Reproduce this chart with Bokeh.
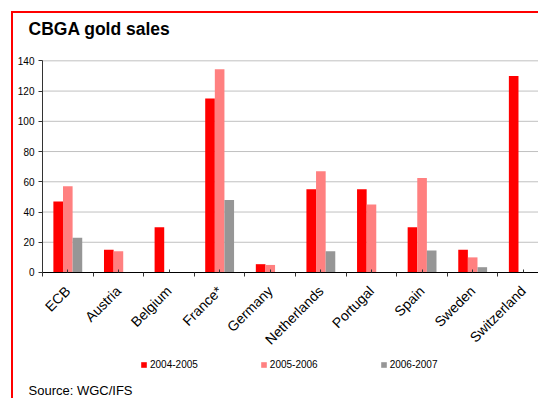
import math
from bokeh.plotting import figure
from bokeh.models import Range1d, FixedTicker, Label, Legend, LegendItem, ColumnDataSource
from bokeh.embed import file_html
from bokeh.resources import INLINE

countries = ["ECB", "Austria", "Belgium", "France*", "Germany", "Netherlands",
             "Portugal", "Spain", "Sweden", "Switzerland"]
sales_2004_2005 = [47, 15, 30, 115, 5.5, 55, 55, 30, 15, 130]
sales_2005_2006 = [57, 14, 0, 134.5, 5, 67, 45, 62.5, 10, 0]
sales_2006_2007 = [23, 0, 0, 48, 0, 14, 0, 14.5, 3.5, 0]
series_names = ["2004-2005", "2005-2006", "2006-2007"]
series_colors = ["#FF0000", "#FF8080", "#969696"]
y_ticks = [0, 20, 40, 60, 80, 100, 120, 140]

FONT = "Liberation Sans"
BAR_W = 0.19
X_END = 9.84

centers = [i + 0.5 for i in range(len(countries))]

# the frame fills the whole canvas; axes are pinned at x=0 / y=0
p = figure(width=527, height=387,
           x_range=Range1d(-0.573, X_END), y_range=Range1d(-84.66, 171.3),
           output_backend="svg", toolbar_location=None,
           min_border_left=0, min_border_right=0, min_border_top=0, min_border_bottom=0)
p.margin = (11, 0, 0, 11)
p.styles = {"border-top": "2px solid #FF0000", "border-left": "2px solid #FF0000"}
p.outline_line_color = None
p.background_fill_color = "white"
p.border_fill_color = "white"
p.xgrid.grid_line_color = None
p.ygrid.grid_line_color = None

# horizontal gridlines from the y ticks
p.segment(x0=[0] * len(y_ticks), x1=[X_END] * len(y_ticks), y0=y_ticks, y1=y_ticks,
          line_color="#C0C0C0", line_width=1)

series = [sales_2004_2005, sales_2005_2006, sales_2006_2007]
renderers = []
for k, vals in enumerate(series):
    src = ColumnDataSource(dict(x=[c + (k - 1) * BAR_W for c in centers], top=vals))
    r = p.vbar(x="x", top="top", width=BAR_W, bottom=0, source=src,
               fill_color=series_colors[k], line_color=None)
    renderers.append(r)

# x axis
xa = p.xaxis[0]
xa.fixed_location = 0
xa.bounds = (0, X_END)
xa.ticker = FixedTicker(ticks=centers, minor_ticks=list(range(len(countries) + 1)))
xa.major_label_overrides = {c: name for c, name in zip(centers, countries)}
xa.major_label_orientation = math.pi / 4
xa.major_label_text_font = FONT
xa.major_label_text_font_size = "14px"
xa.major_label_text_color = "black"
xa.major_label_standoff = 12
xa.major_tick_in = 3
xa.major_tick_out = 0
xa.minor_tick_in = 0
xa.minor_tick_out = 4
xa.axis_line_color = "black"
xa.major_tick_line_color = "#333333"
xa.minor_tick_line_color = "#333333"

# y axis
ya = p.yaxis[0]
ya.fixed_location = 0
ya.bounds = (0, 140)
ya.ticker = FixedTicker(ticks=y_ticks)
ya.major_label_text_font = FONT
ya.major_label_text_font_size = "10px"
ya.major_label_text_color = "black"
ya.major_tick_in = 0
ya.major_tick_out = 4
ya.minor_tick_line_color = None
ya.major_label_standoff = 4
ya.axis_line_color = "#333333"
ya.major_tick_line_color = "#333333"

# title and source (screen units, from the canvas' bottom-left)
p.add_layout(Label(x=15, y=372, x_units="screen", y_units="screen", text="CBGA gold sales",
                   text_font=FONT, text_font_size="17.5px", text_font_style="bold",
                   text_color="black", text_baseline="alphabetic"))
p.add_layout(Label(x=15, y=10, x_units="screen", y_units="screen", text="Source: WGC/IFS",
                   text_font=FONT, text_font_size="13px", text_color="black",
                   text_baseline="alphabetic"))

legend = Legend(items=[LegendItem(label=n, renderers=[r]) for n, r in zip(series_names, renderers)],
                orientation="horizontal", location=(127, 30),
                glyph_width=7, glyph_height=7, label_height=12, label_standoff=3,
                spacing=62, padding=0, margin=0,
                label_text_font=FONT, label_text_font_size="10px", label_text_color="black",
                border_line_color=None, background_fill_alpha=0)
p.add_layout(legend, "center")

open("out.html", "w").write(file_html(p, INLINE))
